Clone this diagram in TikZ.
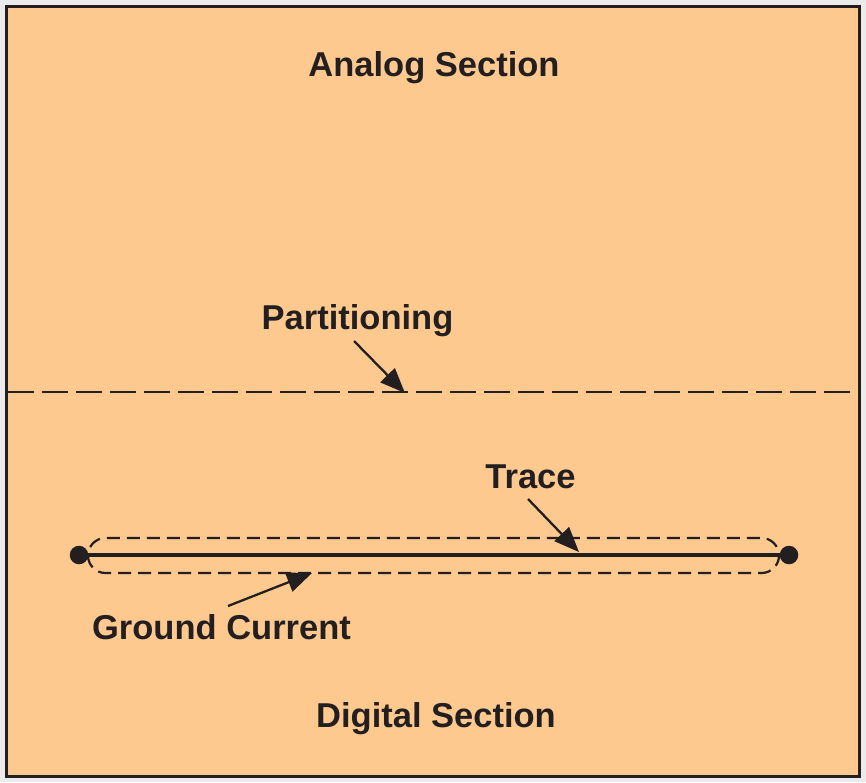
\documentclass[tikz,border=0pt]{standalone}
\usepackage{fontspec}
\setmainfont{Liberation Sans}
\usetikzlibrary{arrows.meta}
\definecolor{bgout}{HTML}{EBEBEB}
\definecolor{panel}{HTML}{FDC98E}
\definecolor{ink}{HTML}{231F20}
\tikzset{
  lbl/.style={anchor=base, inner sep=0pt, text=ink, font=\fontsize{34.5}{41}\selectfont\bfseries},
  pointer/.style={draw=ink, line width=2.3pt, -{Triangle[length=25pt,width=20pt]}},
  partline/.style={draw=ink, line width=2pt, dash pattern=on 26pt off 8pt},
  ringline/.style={draw=ink, line width=2.2pt, dash pattern=on 13pt off 7pt},
  dotnode/.style={circle, fill=ink, inner sep=0pt, minimum size=18.5pt},
}
\begin{document}
\begin{tikzpicture}[x=1pt,y=-1pt]
\useasboundingbox (0,0) rectangle (866,782);
\fill[bgout] (0,0) rectangle (866,782);
\draw[ink, fill=panel, line width=3pt] (6.5,6.5) rectangle (859.5,776.5);
% partition line
\coordinate (pl) at (8,392);
\coordinate (pr) at (858,392);
\draw[partline] (pl) -- (pr);
% trace
\node[dotnode] (d1) at (79,555) {};
\node[dotnode] (d2) at (789,555) {};
\draw[draw=ink, line width=4pt] (d1.center) -- (d2.center);
\draw[ringline, rounded corners=17.5pt] (88,538) rectangle (779,573);
% labels
\node[lbl] (analog) at (434,76.7) {Analog Section};
\node[lbl] (digital) at (436,727) {Digital Section};
\node[lbl] (part) at (357.5,329) {Partitioning};
\node[lbl] (trace) at (530.5,488) {Trace};
\node[lbl] (ground) at (221.5,639) {Ground Current};
% arrows
\coordinate (pa) at (354,341);
\coordinate (pt) at (405,393);
\draw[pointer] (pa) -- (pt);
\coordinate (ta) at (528,499);
\coordinate (tt) at (579,552);
\draw[pointer] (ta) -- (tt);
\coordinate (ga) at (228,606);
\coordinate (gt) at (312,573);
\draw[pointer] (ga) -- (gt);
\end{tikzpicture}
\end{document}
